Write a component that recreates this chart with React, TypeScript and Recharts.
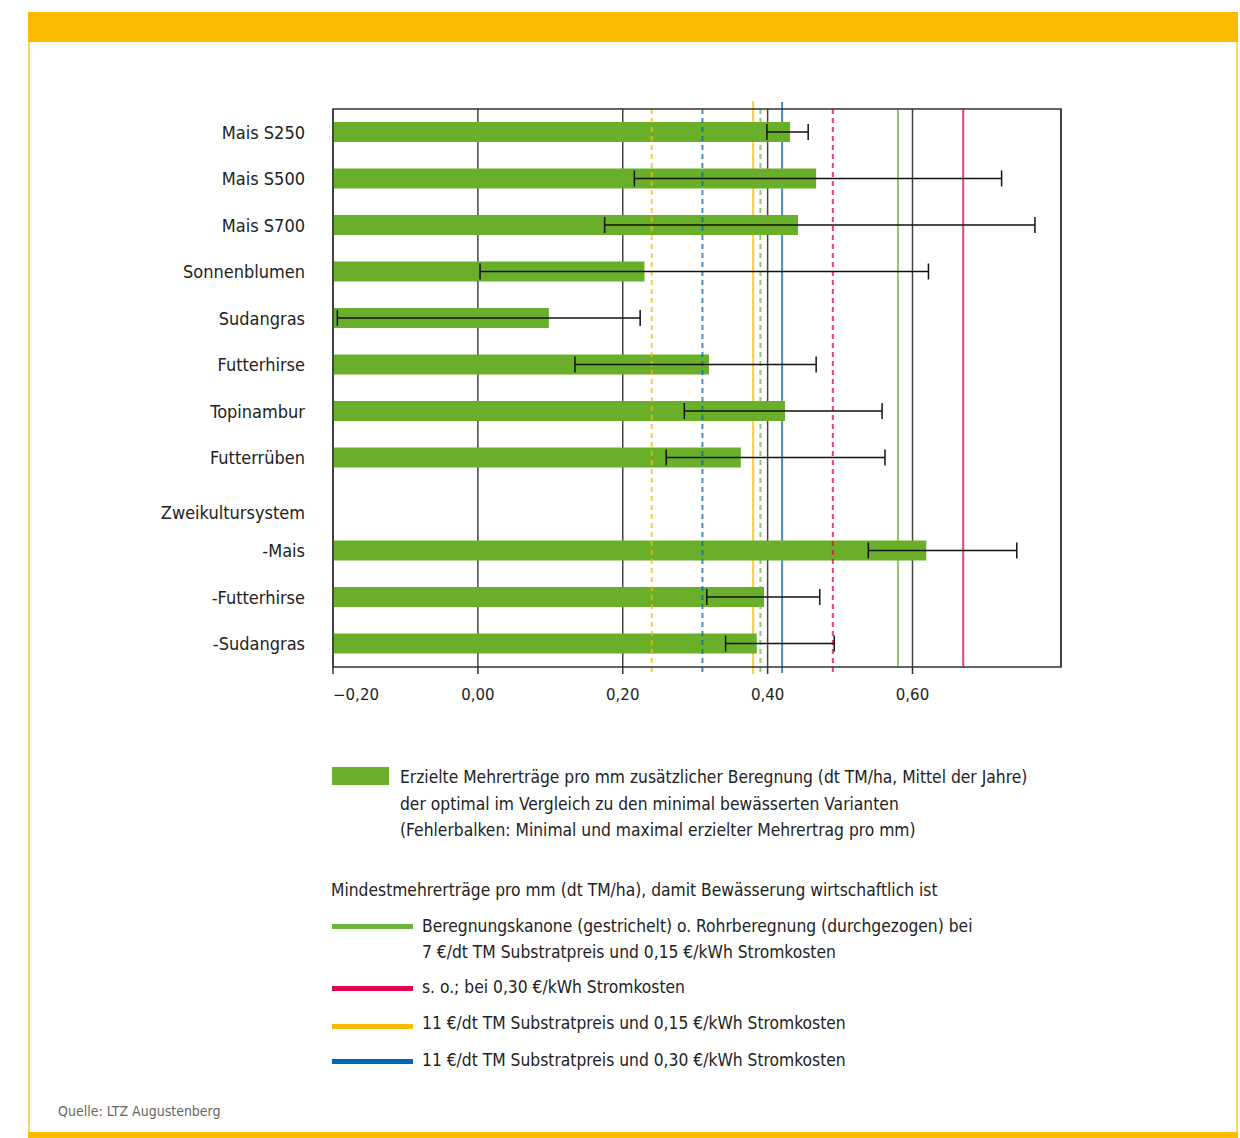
import React from "react";
import {
  BarChart,
  Bar,
  XAxis,
  YAxis,
  CartesianGrid,
  ErrorBar,
  ReferenceLine,
  ReferenceArea,
} from "recharts";

// Kulturen (Zweikultursystem als Zwischenüberschrift ohne Balken)
const categories = [
  "Mais S250",
  "Mais S500",
  "Mais S700",
  "Sonnenblumen",
  "Sudangras",
  "Futterhirse",
  "Topinambur",
  "Futterrüben",
  "Zweikultursystem",
  "-Mais",
  "-Futterhirse",
  "-Sudangras",
];
const SUBHEADING = "Zweikultursystem";

// Mittlerer Mehrertrag pro mm (dt TM/ha)
const mehrertrag = [0.431, 0.467, 0.442, 0.23, 0.098, 0.319, 0.424, 0.363, null, 0.619, 0.395, 0.385];
// Minimal erzielter Mehrertrag pro mm
const minimum = [0.399, 0.216, 0.175, 0.003, -0.194, 0.134, 0.285, 0.26, null, 0.539, 0.316, 0.342];
// Maximal erzielter Mehrertrag pro mm
const maximum = [0.456, 0.723, 0.769, 0.622, 0.224, 0.467, 0.558, 0.562, null, 0.744, 0.472, 0.492];

// Mindestmehrerträge: Beregnungskanone (gestrichelt) / Rohrberegnung (durchgezogen)
const kanone7_015 = 0.39;
const rohr7_015 = 0.58;
const kanone7_030 = 0.49;
const rohr7_030 = 0.67;
const kanone11_015 = 0.24;
const rohr11_015 = 0.38;
const kanone11_030 = 0.31;
const rohr11_030 = 0.42;

const xTicks = [-0.2, 0, 0.2, 0.4, 0.6];
const xDomain: [number, number] = [-0.2, 0.805];

// Balken beginnen am linken Achsenende (Bereichsbalken [Achsenminimum, Wert])
const data = categories.map((name, i) => {
  const v = mehrertrag[i];
  const lo = minimum[i];
  const hi = maximum[i];
  return {
    name,
    wert: v == null ? null : [xDomain[0], v],
    fehler: v == null || lo == null || hi == null ? undefined : [v - lo, hi - v],
  };
});

const GREEN = "#6aaf2a";
const C_GREEN = "#6db33f";
const C_PINK = "#e3004f";
const C_YELLOW = "#fbba00";
const C_BLUE = "#0069b4";

const LABEL_FONT = "'DejaVu Sans Condensed', 'DejaVu Sans', sans-serif";
const TICK_FONT = "'DejaVu Sans', sans-serif";

const fmt = (v: number) => {
  const s = Math.abs(v).toFixed(2).replace(".", ",");
  return v < 0 ? "\u2212" + s : s;
};

// Linie, die über bzw. unter den Plotrahmen hinausragen darf
const stretched =
  (top: number, bottom: number, color: string, dashed: boolean) => (p: any) => {
    const ya = Math.min(p.y1, p.y2) - top;
    const yb = Math.max(p.y1, p.y2) + bottom;
    return (
      <line
        x1={p.x1}
        x2={p.x2}
        y1={ya}
        y2={yb}
        stroke={color}
        strokeWidth={2}
        strokeOpacity={0.75}
        strokeDasharray={dashed ? "5 4" : undefined}
      />
    );
  };

const solidLines = [
  { v: rohr7_015, c: C_GREEN, top: 0, bottom: 0 },
  { v: rohr7_030, c: C_PINK, top: 0, bottom: 0 },
  { v: rohr11_015, c: C_YELLOW, top: 8, bottom: 7 },
  { v: rohr11_030, c: C_BLUE, top: 7, bottom: 6 },
];
const dashedLines = [
  { v: kanone7_015, c: C_GREEN },
  { v: kanone7_030, c: C_PINK },
  { v: kanone11_015, c: C_YELLOW },
  { v: kanone11_030, c: C_BLUE },
];

const CategoryTick = (props: any) => {
  const { x, y, payload } = props;
  const isHeading = payload.value === SUBHEADING;
  return (
    <text
      x={x}
      y={y + (isHeading ? 8 : 0)}
      dy="0.355em"
      textAnchor="end"
      fontFamily={LABEL_FONT}
      fontSize={18}
      fill="#222"
    >
      {payload.value}
    </text>
  );
};

const ValueTick = (props: any) => {
  const { x, y, payload } = props;
  const first = payload.value === xTicks[0];
  return (
    <text
      x={x}
      y={y}
      dy="0.71em"
      textAnchor={first ? "start" : "middle"}
      fontFamily={TICK_FONT}
      fontSize={15}
      fill="#222"
    >
      {fmt(payload.value)}
    </text>
  );
};

const legendText: React.CSSProperties = {
  position: "absolute",
  fontFamily: LABEL_FONT,
  fontSize: 17.3,
  color: "#222",
  whiteSpace: "nowrap",
};

const Swatch = ({ top, color }: { top: number; color: string }) => (
  <div style={{ position: "absolute", left: 332, top, width: 81, height: 5, background: color }} />
);

export default function App() {
  return (
    <div style={{ position: "absolute", left: 0, top: 0, width: 1240, height: 1138, background: "#fff" }}>
      {/* Rahmen */}
      <div style={{ position: "absolute", left: 28, top: 12, width: 1210, height: 30, background: "#fabb00" }} />
      <div style={{ position: "absolute", left: 28, top: 42, width: 2, height: 1090, background: "#fdd66a" }} />
      <div style={{ position: "absolute", left: 1236, top: 42, width: 2, height: 1090, background: "#fdd66a" }} />
      <div style={{ position: "absolute", left: 28, top: 1132, width: 1210, height: 6, background: "#fabb00" }} />

      <div style={{ position: "absolute", left: 0, top: 0 }}>
        <BarChart
          width={1240}
          height={720}
          data={data}
          layout="vertical"
          margin={{ top: 109, right: 179, left: 0, bottom: 13 }}
          barCategoryGap={0}
        >
          <CartesianGrid horizontal={false} stroke="#444" strokeWidth={1.5} />
          <XAxis
            type="number"
            domain={xDomain}
            ticks={xTicks}
            allowDataOverflow
            axisLine={false}
            tickLine={{ stroke: "#333", strokeWidth: 1.5 }}
            tickSize={7}
            tickMargin={15}
            height={40}
            tick={<ValueTick />}
          />
          <YAxis
            type="category"
            dataKey="name"
            width={333}
            interval={0}
            axisLine={false}
            tickLine={false}
            tickSize={0}
            tickMargin={28}
            tick={<CategoryTick />}
          />
          {solidLines.map((l) => (
            <ReferenceLine
              key={"s" + l.v}
              x={l.v}
              stroke={l.c}
              zIndex={250}
              ifOverflow="visible"
              shape={stretched(l.top, l.bottom, l.c, false)}
            />
          ))}
          <Bar dataKey="wert" fill={GREEN} barSize={20} isAnimationActive={false}>
            <ErrorBar
              dataKey="fehler"
              direction="x"
              width={8}
              stroke="#111"
              strokeWidth={1.5}
              isAnimationActive={false}
            />
          </Bar>
          {dashedLines.map((l) => (
            <ReferenceLine
              key={"d" + l.v}
              x={l.v}
              stroke={l.c}
              zIndex={350}
              ifOverflow="visible"
              shape={stretched(0, 7, l.c, true)}
            />
          ))}
          <ReferenceArea
            x1={xDomain[0]}
            x2={xDomain[1]}
            fill="none"
            fillOpacity={0}
            stroke="#333"
            strokeWidth={1.5}
            zIndex={400}
          />
        </BarChart>
      </div>

      {/* Legende */}
      <div style={{ position: "absolute", left: 332, top: 767, width: 57, height: 18, background: GREEN }} />
      <div style={{ ...legendText, left: 400, top: 764, lineHeight: "26.5px" }}>
        Erzielte Mehrerträge pro mm zusätzlicher Beregnung (dt TM/ha, Mittel der Jahre)
        <br />
        der optimal im Vergleich zu den minimal bewässerten Varianten
        <br />
        (Fehlerbalken: Minimal und maximal erzielter Mehrertrag pro mm)
      </div>

      <div style={{ ...legendText, left: 331, top: 877, lineHeight: "26px" }}>
        Mindestmehrerträge pro mm (dt TM/ha), damit Bewässerung wirtschaftlich ist
      </div>

      <Swatch top={924} color={C_GREEN} />
      <div style={{ ...legendText, left: 422, top: 914, lineHeight: "25.5px" }}>
        Beregnungskanone (gestrichelt) o. Rohrberegnung (durchgezogen) bei
        <br />7 €/dt TM Substratpreis und 0,15 €/kWh Stromkosten
      </div>

      <Swatch top={986} color={C_PINK} />
      <div style={{ ...legendText, left: 422, top: 974, lineHeight: "26px" }}>
        s. o.; bei 0,30 €/kWh Stromkosten
      </div>

      <Swatch top={1024} color={C_YELLOW} />
      <div style={{ ...legendText, left: 422, top: 1010, lineHeight: "26px" }}>
        11 €/dt TM Substratpreis und 0,15 €/kWh Stromkosten
      </div>

      <Swatch top={1059} color={C_BLUE} />
      <div style={{ ...legendText, left: 422, top: 1047, lineHeight: "26px" }}>
        11 €/dt TM Substratpreis und 0,30 €/kWh Stromkosten
      </div>

      <div
        style={{
          position: "absolute",
          left: 58,
          top: 1101,
          fontFamily: LABEL_FONT,
          fontSize: 14,
          color: "#666",
          whiteSpace: "nowrap",
          lineHeight: "20px",
        }}
      >
        Quelle: LTZ Augustenberg
      </div>
    </div>
  );
}
